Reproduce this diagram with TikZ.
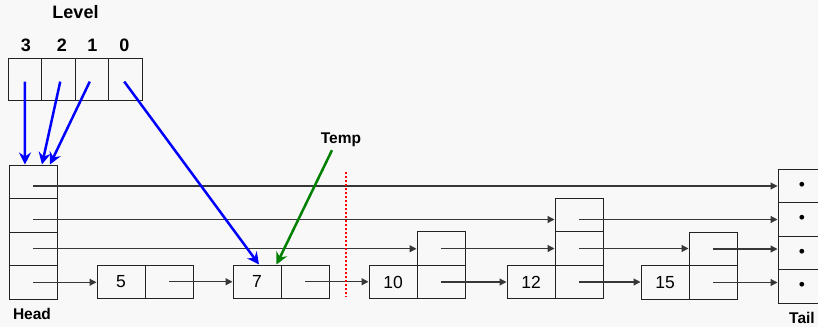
\documentclass[tikz,border=0pt]{standalone}
\usepackage{fontspec}
\setmainfont{Liberation Sans}
\usetikzlibrary{arrows.meta}
\definecolor{bg}{RGB}{248,248,248}
\definecolor{edge}{RGB}{35,35,35}
\definecolor{ln}{RGB}{55,55,55}
\definecolor{myblue}{RGB}{0,0,255}
\definecolor{mygreen}{RGB}{0,128,0}
\definecolor{myred}{RGB}{255,0,0}
\begin{document}
\begin{tikzpicture}[x=1pt,y=-1pt,
  cell/.style={draw=edge,line width=1pt,minimum width=48pt,minimum height=33.5pt,inner sep=0pt,font=\fontsize{17.5}{20}\selectfont},
  lcell/.style={draw=edge,line width=1pt,minimum width=33.5pt,minimum height=42.7pt,inner sep=0pt},
  link/.style={draw=ln,line width=1.2pt,-{Triangle[length=7pt,width=7pt]}},
  ptr/.style={draw=myblue,line width=2.5pt,-{Stealth[length=12pt,width=12pt,inset=4pt]}},
  lbl/.style={font=\bfseries\fontsize{15.5}{18}\selectfont,inner sep=0pt},
  big/.style={font=\bfseries\fontsize{18}{20}\selectfont,inner sep=0pt}]
\fill[bg] (0,0) rectangle (818,327);
\useasboundingbox (0,0) rectangle (818,327);
% level array
\node[big] (level) at (75.5,12.5) {Level};
\node[big] (d3) at (26,45.5) {3};
\node[big] (d2) at (62,45.5) {2};
\node[big] (d1) at (92.5,45.5) {1};
\node[big] (d0) at (124.5,45.5) {0};
\node[lcell] (L3) at (24.75,79.6) {};
\node[lcell] (L2) at (58.25,79.6) {};
\node[lcell] (L1) at (91.75,79.6) {};
\node[lcell] (L0) at (125.25,79.6) {};
% head
\node[cell] (h3) at (33,181.75) {};
\node[cell] (h2) at (33,215.25) {};
\node[cell] (h1) at (33,248.75) {};
\node[cell] (h0) at (33,282.25) {};
\node[lbl] (head) at (32,313.5) {Head};
% tail
\node[cell] (t3) at (802,186) {•};
\node[cell] (t2) at (802,219.5) {•};
\node[cell] (t1) at (802,253) {•};
\node[cell] (t0) at (802,286.5) {•};
\node[lbl] (tail) at (802,318) {Tail};
% node 5
\node[cell] (n5a) at (121,281.75) {5};
\node[cell] (n5b) at (169,281.75) {};
% node 7
\node[cell] (n7a) at (257,281.75) {7};
\node[cell] (n7b) at (305,281.75) {};
% node 10
\node[cell] (n10a) at (393,282) {10};
\node[cell] (n10b) at (441,282) {};
\node[cell] (n10c1) at (441,248.5) {};
% node 12
\node[cell] (n12a) at (531,282) {12};
\node[cell] (n12b) at (579,282) {};
\node[cell] (n12c1) at (579,248.5) {};
\node[cell] (n12c2) at (579,215) {};
% node 15
\node[cell] (n15a) at (665,282.5) {15};
\node[cell] (n15b) at (713,282.5) {};
\node[cell] (n15c1) at (713,249) {};
% links
\draw[link] (h3.center |- t3.west) -- (t3.west);
\draw[link] (h2.center |- t2.west) -- (n12c2.west |- t2.west);
\draw[link] (h1.center) -- (h1.center -| n10c1.west);
\draw[link] (h0.center) -- (h0.center -| n5a.west);
\draw[link] (n5b.center) -- (n5b.center -| n7a.west);
\draw[link] (n7b.center) -- (n7b.center -| n10a.west);
\draw[link] (n10c1.center) -- (n10c1.center -| n12c1.west);
\draw[link] (n10b.center) -- (n10b.center -| n12a.west);
\draw[link] (n12c2.center |- t2.west) -- (t2.west);
\draw[link] (n12c1.center) -- (n12c1.center -| n15c1.west);
\draw[link] (n12b.center) -- (n12b.center -| n15a.west);
\draw[link] (n15c1.center) -- (n15c1.center -| t1.west);
\draw[link] (n15b.center) -- (n15b.center -| t0.west);
% red dotted
\draw[myred,line width=2pt,dash pattern=on 2pt off 2pt] (346,172) -- (346,297);
% pointers
\draw[ptr] ([yshift=-2pt]L3.center) -- ([xshift=-8pt]h3.north);
\draw[ptr] ([xshift=2pt,yshift=-2pt]L2.center) -- ([xshift=9pt]h3.north);
\draw[ptr] ([xshift=-2pt,yshift=-2pt]L1.center) -- ([xshift=17pt]h3.north);
\draw[ptr] ([xshift=-1pt,yshift=-2pt]L0.center) -- ([xshift=2pt]n7a.north);
\node[lbl,inner sep=3pt] (temp) at (341,140) {Temp};
\draw[draw=mygreen,line width=2.5pt,-{Stealth[length=12pt,width=12pt,inset=4pt]}] ([xshift=-9pt]temp.south) -- ([xshift=-4pt]n7b.north west);
\end{tikzpicture}
\end{document}
